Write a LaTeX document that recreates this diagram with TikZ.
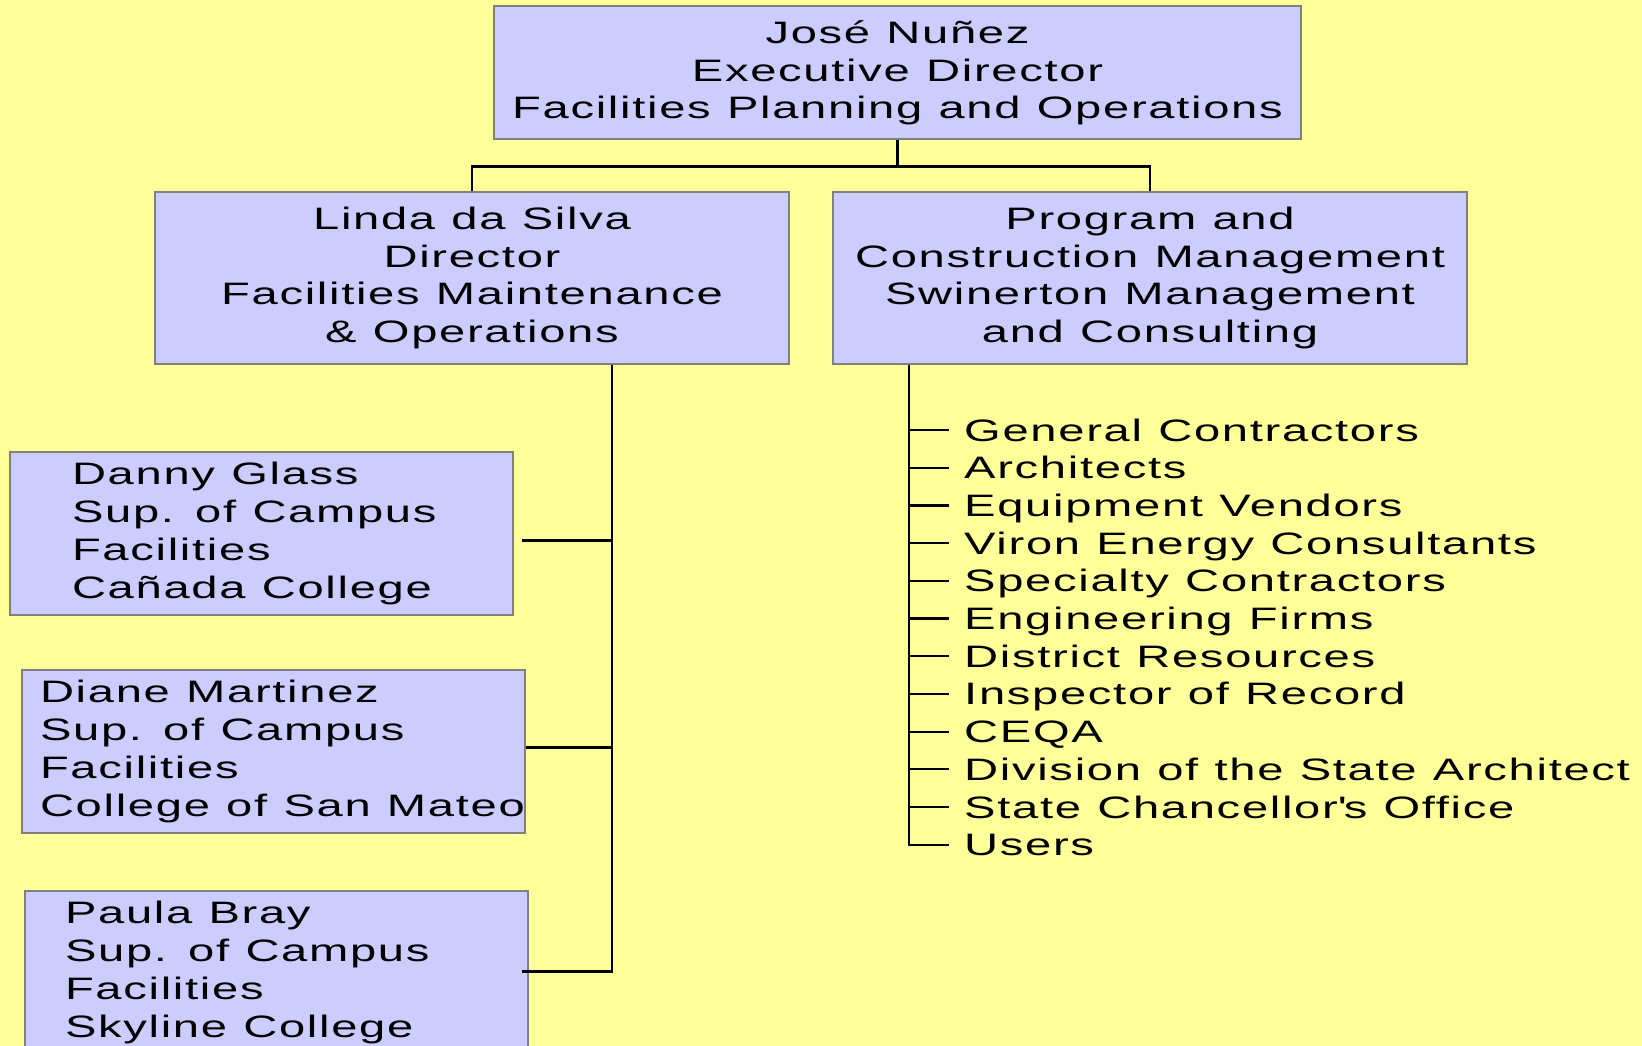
\documentclass[tikz,border=0pt]{standalone}
\usepackage{fontspec}
\setmainfont[FakeStretch=1.52,LetterSpace=5.5,WordSpace=1.1]{Liberation Sans}
\usetikzlibrary{positioning}
\definecolor{bgyellow}{HTML}{FFFF99}
\definecolor{boxblue}{HTML}{CCCCFF}
\definecolor{boxgray}{HTML}{808080}

\begin{document}
\begin{tikzpicture}[x=1pt, y=-1pt,
    font=\fontsize{31}{37.7}\selectfont,
    box/.style={draw=boxgray, line width=2pt, fill=boxblue, align=center, inner sep=0pt},
    supbox/.style={box, align=flush left, anchor=north west, minimum height=163pt},
    item/.style={anchor=west, inner xsep=15pt, inner ysep=0pt, text height=22pt, text depth=0pt},
    under/.style={below=37.7pt of #1.west, anchor=west},
    link/.style={line width=2.2pt}]
    \useasboundingbox[fill=bgyellow] (0,0) rectangle (1642,1046);
    % director and the two branches below him
    \node[box, minimum width=807pt, minimum height=133pt] (jose) at (897.5,73) {José Nuñez\\Executive Director\\Facilities Planning and Operations};
    \node[box, minimum width=634pt, minimum height=171pt] (linda) at (472,278) {Linda da Silva\\Director\\Facilities Maintenance\\\& Operations};
    \node[box, minimum width=634pt, minimum height=171pt] (swin) [right=42pt of linda] {Program and\\Construction Management\\Swinerton Management\\and Consulting};

    % campus facilities
    \node[supbox, inner xsep=62pt, text width=379pt] (danny) at (9,451) {Danny Glass\\Sup. of Campus\\Facilities\\Cañada College};
    \node[supbox, inner xsep=18pt, text width=467pt] (diane) at (21,669) {Diane Martinez\\Sup. of Campus\\Facilities\\\mbox{College of San Mateo}};
    \node[supbox, inner xsep=40pt, text width=423pt] (paula) at (24,890) {Paula Bray\\Sup. of Campus\\Facilities\\Skyline College};

    % consultants and agencies
    \node[item] (gc) at (949,430) {General Contractors};
    \node[item, under=gc] (arch) {Architects};
    \node[item, under=arch] (equip) {Equipment Vendors};
    \node[item, under=equip] (viron) {Viron Energy Consultants};
    \node[item, under=viron] (spec) {Specialty Contractors};
    \node[item, under=spec] (eng) {Engineering Firms};
    \node[item, under=eng] (dist) {District Resources};
    \node[item, under=dist] (insp) {Inspector of Record};
    \node[item, under=insp] (ceqa) {CEQA};
    \node[item, under=ceqa] (dsa) {Division of the State Architect};
    \node[item, under=dsa] (chanc) {State Chancellor\textquotesingle s Office};
    \node[item, under=chanc] (users) {Users};

    \draw[link] (jose.south) -- ++(0,26) coordinate (split);
    \draw[link] (linda.north) |- (split) -| (swin.north);

    \coordinate (lspine) at ([xshift=140pt]linda.south);
    \coordinate (dannyend) at ([shift={(8,7)}]danny.east);
    \coordinate (dianeend) at ([yshift=4pt]diane.east);
    \draw[link] (lspine) |- ([shift={(-7,-1)}]paula.east);
    \draw[link] (dannyend) -- (lspine |- dannyend);
    \draw[link] (dianeend) -- (lspine |- dianeend);

    \coordinate (rspine) at ([xshift=77pt]swin.south west);
    \draw[link] (rspine) |- (users.west);
    \draw[link]
    (rspine |- gc.west) -- (gc.west)
    (rspine |- arch.west) -- (arch.west)
    (rspine |- equip.west) -- (equip.west)
    (rspine |- viron.west) -- (viron.west)
    (rspine |- spec.west) -- (spec.west)
    (rspine |- eng.west) -- (eng.west)
    (rspine |- dist.west) -- (dist.west)
    (rspine |- insp.west) -- (insp.west)
    (rspine |- ceqa.west) -- (ceqa.west)
    (rspine |- dsa.west) -- (dsa.west)
    (rspine |- chanc.west) -- (chanc.west);
\end{tikzpicture}
\end{document}
